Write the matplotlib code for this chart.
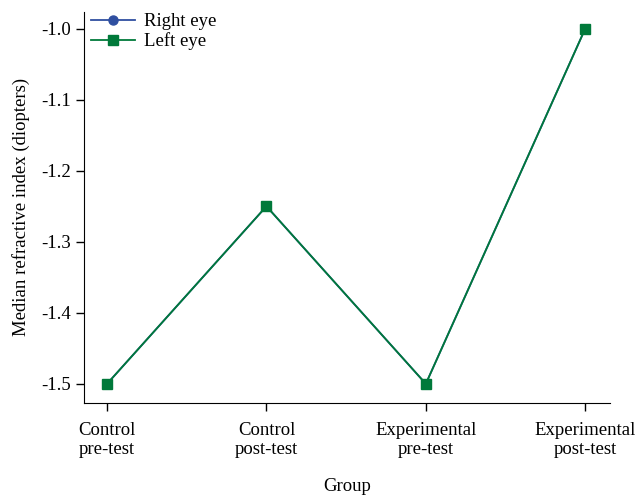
import matplotlib.pyplot as plt

plt.rcParams['font.family'] = ['Liberation Serif', 'DejaVu Serif']
plt.rcParams['axes.unicode_minus'] = False

groups = ["Control\npre-test", "Control\npost-test", "Experimental\npre-test", "Experimental\npost-test"]
right_eye = [-1.5, -1.25, -1.5, -1.0]
left_eye = [-1.5, -1.25, -1.5, -1.0]
yticks = [-1.5, -1.4, -1.3, -1.2, -1.1, -1.0]

FS = 13.5

fig = plt.figure(figsize=(6.36, 4.96), dpi=100)
ax = fig.add_axes([0.132, 0.1875, 0.827, 0.789])

x = list(range(len(groups)))
ax.plot(x, right_eye, color='#2f4fa0', marker='o', ms=6.5, lw=1.3, label='Right eye')
ax.plot(x, left_eye, color='#00793a', marker='s', ms=6.5, lw=1.3, label='Left eye')

ax.set_xlim(-0.145, 3.155)
ax.set_ylim(-1.527, -0.976)
ax.set_xticks(x)
ax.set_xticklabels(groups, fontsize=FS)
ax.set_yticks(yticks)
ax.set_yticklabels([f"{v:.1f}" for v in yticks], fontsize=FS)
ax.set_xlabel("Group", fontsize=FS, labelpad=14)
ax.set_ylabel("Median refractive index (diopters)", fontsize=FS, labelpad=8)

for s in ['top', 'right']:
    ax.spines[s].set_visible(False)
ax.tick_params(direction='out', length=6, width=1)
ax.tick_params(axis='x', pad=7.5)

ax.legend(loc='upper left', frameon=False, fontsize=FS, handlelength=2.3,
          handletextpad=0.5, borderaxespad=0.0, bbox_to_anchor=(0.0, 1.015),
          labelspacing=0.1)

fig.savefig("out.png", dpi=100)
